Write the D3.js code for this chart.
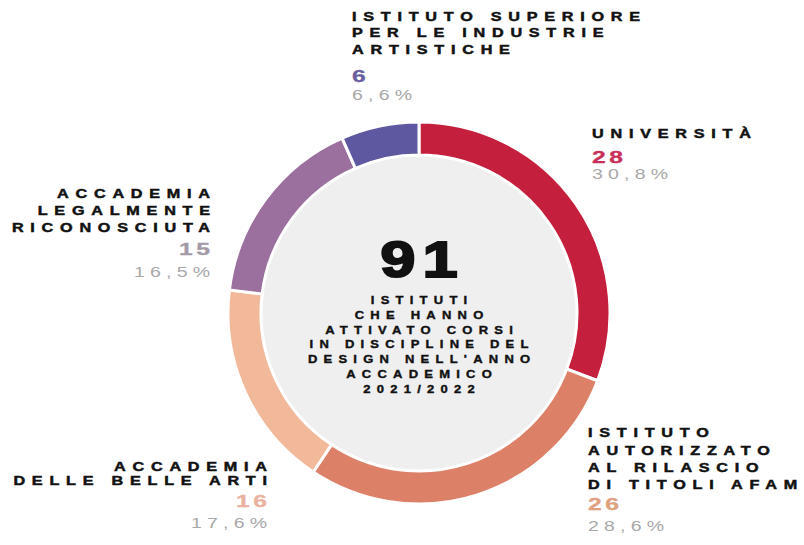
<!DOCTYPE html>
<html lang="it">
<head>
<meta charset="UTF-8">
<title>Istituti design 2021/2022</title>
<script src="https://d3js.org/d3.v7.min.js"></script>
<style>
    body, html {
        margin: 0;
        padding: 0;
        background: #fff;
        overflow: hidden;
    }
    svg text {
        font-family: "Liberation Sans", Arial, sans-serif;
    }
</style>
</head>
<body>
<svg id="chart" width="804" height="545"></svg>
<script>
    // data
    const categories = ["Università", "Istituto autorizzato al rilascio di titoli AFAM", "Accademia delle Belle Arti", "Accademia legalmente riconosciuta", "Istituto Superiore per le Industrie Artistiche"];
    const labelLines = [
        ["UNIVERSITÀ"],
        ["ISTITUTO", "AUTORIZZATO", "AL RILASCIO", "DI TITOLI AFAM"],
        ["ACCADEMIA", "DELLE BELLE ARTI"],
        ["ACCADEMIA", "LEGALMENTE", "RICONOSCIUTA"],
        ["ISTITUTO SUPERIORE", "PER LE INDUSTRIE", "ARTISTICHE"]
    ];
    const values = [28, 26, 16, 15, 6];
    const colors = ["#c41f3c", "#dd8068", "#f1b999", "#9b6f9e", "#5d58a0"];
    const numberColors = ["#c8305a", "#e0a07e", "#eab3a0", "#a29aa6", "#6a5fa0"];
    const centerLines = ["ISTITUTI", "CHE HANNO", "ATTIVATO CORSI", "IN DISCIPLINE DEL", "DESIGN NELL'ANNO", "ACCADEMICO", "2021/2022"];

    // label placement (layout only)
    const labelPos = [
        { x: 592, anchor: "start", lines: [138], num: 163, pct: 179 },
        { x: 588, anchor: "start", lines: [437, 455, 472, 489], num: 510, pct: 531 },
        { x: 267, anchor: "end", lines: [471, 485], num: 507, pct: 528 },
        { x: 210, anchor: "end", lines: [198, 215, 232], num: 255, pct: 277 },
        { x: 352, anchor: "start", lines: [21, 37, 54], num: 82, pct: 100 }
    ];

    const svg = d3.select("#chart");
    const cx = 419, cy = 313;
    const outerR = 191, innerR = 158;
    const total = d3.sum(values);

    // the original type is a wide grotesque: stretch glyphs horizontally
    function wideText(parent, x, y, str, o) {
        const ls = o.ls || 0;
        const off = o.anchor === "end" ? ls : o.anchor === "middle" ? ls / 2 : 0;
        const t = parent.append("g")
            .attr("transform", `translate(${x},${y}) scale(${o.sx},1)`)
            .append("text")
            .attr("x", off)
            .attr("y", 0)
            .attr("text-anchor", o.anchor || "start")
            .style("font-size", o.size + "px")
            .style("font-weight", o.weight || "normal")
            .style("letter-spacing", ls + "px")
            .style("fill", o.color)
            .text(str);
        if (o.stroke) t.style("stroke", o.color).style("stroke-width", o.stroke);
        return t;
    }

    const g = svg.append("g").attr("transform", `translate(${cx},${cy})`);

    // light grey disc inside the ring
    g.append("circle")
        .attr("r", innerR)
        .style("fill", "#efefef");

    const pie = d3.pie().sort(null).value(d => d)(values);
    const arc = d3.arc().innerRadius(innerR).outerRadius(outerR);

    g.selectAll("path.slice")
        .data(pie)
        .enter().append("path")
        .attr("class", "slice")
        .attr("d", arc)
        .style("fill", (d, i) => colors[i])
        .style("stroke", "#fff")
        .style("stroke-width", 3);

    // big total
    wideText(g, 0, -36, total, { sx: 1.25, size: 50, weight: "bold", ls: 6, anchor: "middle", color: "#111", stroke: 2.2 });

    centerLines.forEach((line, i) => {
        wideText(g, 0, -9 + i * 14.8, line, { sx: 1.3, size: 10, weight: "bold", ls: 4.8, anchor: "middle", color: "#111", stroke: 0.35 });
    });

    // labels around the ring
    const fmtPct = v => (v / total * 100).toFixed(1).replace(".", ",") + "%";

    labelLines.forEach((lines, i) => {
        const p = labelPos[i];
        const lab = svg.append("g");

        lines.forEach((line, j) => {
            wideText(lab, p.x, p.lines[j], line, { sx: 1.35, size: 12, weight: "bold", ls: 5, anchor: p.anchor, color: "#111", stroke: 0.45 });
        });

        wideText(lab, p.x, p.num, values[i], { sx: 1.45, size: 17, weight: "bold", ls: 2.5, anchor: p.anchor, color: numberColors[i], stroke: 0.3 });
        wideText(lab, p.x, p.pct, fmtPct(values[i]), { sx: 1.3, size: 15, ls: 4, anchor: p.anchor, color: "#a8a8a8" });
    });
</script>
</body>
</html>
